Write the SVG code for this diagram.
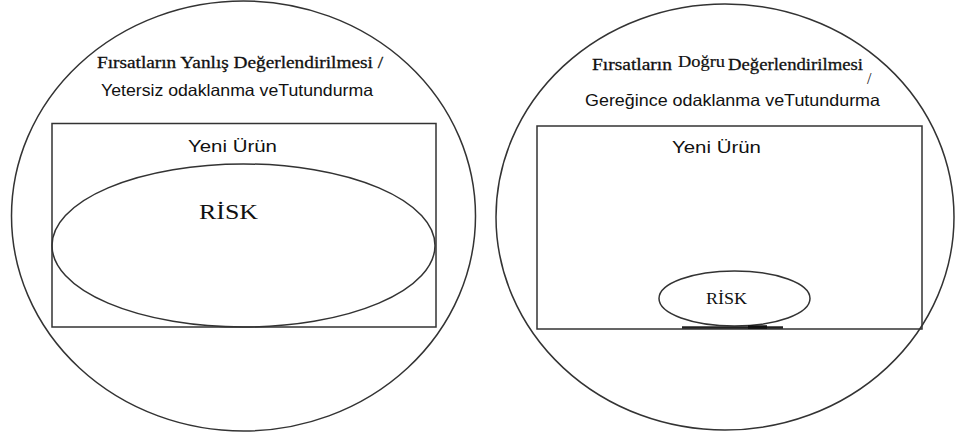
<svg xmlns="http://www.w3.org/2000/svg" width="955" height="434" viewBox="0 0 955 434">
<style>
.ln{fill:none;stroke:#333;stroke-width:1.5}
.serif{font-family:"Liberation Serif","DejaVu Serif",serif;fill:#111}
.sans{font-family:"Liberation Sans",Arial,sans-serif;fill:#111}
.bd{stroke:#111;stroke-width:0.3}
</style>
<rect width="955" height="434" fill="#fff"/>
<g id="left-panel">
  <ellipse class="ln" cx="243.5" cy="216" rx="232" ry="215"/>
  <text class="serif bd" x="97" y="68" font-size="17" textLength="286" lengthAdjust="spacingAndGlyphs">Fırsatların Yanlış Değerlendirilmesi /</text>
  <text class="sans" x="101" y="96" font-size="16.5" textLength="272" lengthAdjust="spacingAndGlyphs">Yetersiz odaklanma veTutundurma</text>
  <rect class="ln" x="52" y="123.5" width="384" height="203.5"/>
  <text class="sans" x="188" y="152" font-size="17" textLength="89" lengthAdjust="spacingAndGlyphs">Yeni Ürün</text>
  <ellipse class="ln" cx="243.5" cy="245.5" rx="191.5" ry="81.5"/>
  <text class="serif" x="199" y="219" font-size="22" textLength="59" lengthAdjust="spacingAndGlyphs">RİSK</text>
</g>
<g id="right-panel">
  <ellipse class="ln" cx="725" cy="217" rx="229" ry="213"/>
  <text class="serif bd" x="592" y="70" font-size="17" textLength="80" lengthAdjust="spacingAndGlyphs">Fırsatların</text>
  <text class="serif" x="678" y="67" font-size="16.5" stroke="#111" stroke-width="0.2" textLength="47" lengthAdjust="spacingAndGlyphs">Doğru</text>
  <text class="serif bd" x="728" y="70" font-size="17" textLength="135" lengthAdjust="spacingAndGlyphs">Değerlendirilmesi</text>
  <text class="serif" x="867" y="84" font-size="16">/</text>
  <text class="sans" x="585" y="106" font-size="16.5" textLength="295" lengthAdjust="spacingAndGlyphs">Gereğince odaklanma veTutundurma</text>
  <rect class="ln" x="537" y="126" width="385" height="203"/>
  <text class="sans" x="672" y="153" font-size="17" textLength="89" lengthAdjust="spacingAndGlyphs">Yeni Ürün</text>
  <ellipse class="ln" cx="734.5" cy="298.5" rx="75.5" ry="27.5"/>
  <text class="serif" x="706" y="304" font-size="16" textLength="41" lengthAdjust="spacingAndGlyphs">RİSK</text>
  <line x1="682" y1="327.5" x2="783" y2="327.5" stroke="#222" stroke-width="2.5"/>
  <line x1="748" y1="327" x2="767" y2="327" stroke="#111" stroke-width="3.5"/>
</g>
<g id="connectors"></g>
</svg>
